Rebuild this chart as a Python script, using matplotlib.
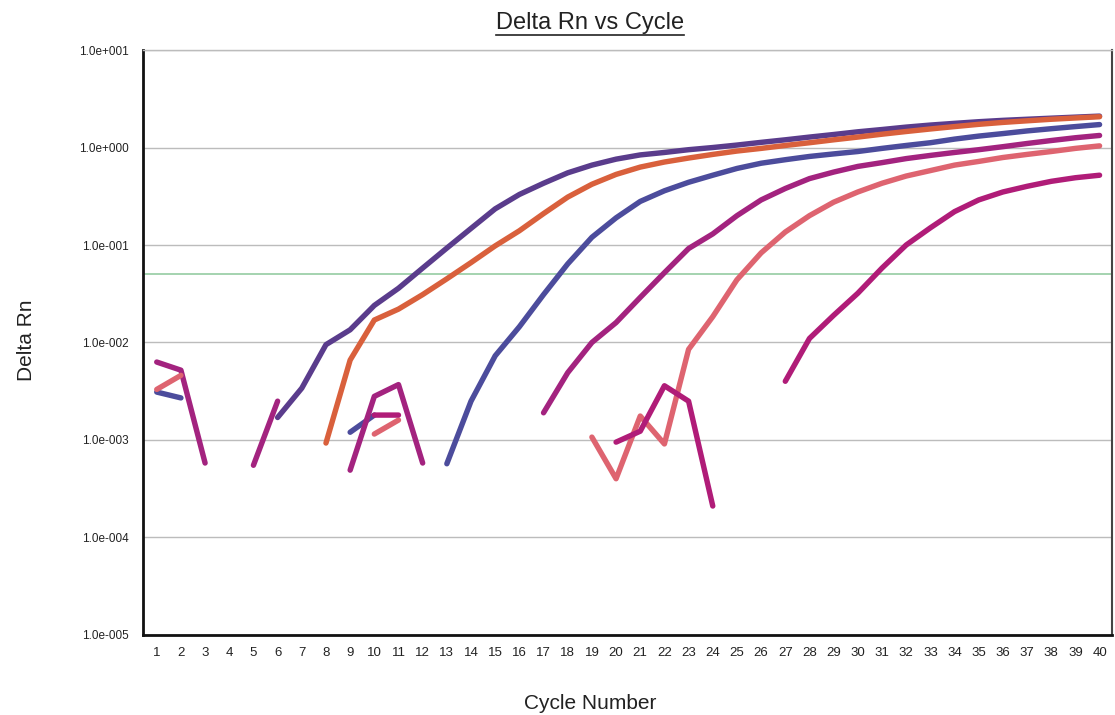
import matplotlib
matplotlib.use('Agg')
import matplotlib.pyplot as plt
from matplotlib.lines import Line2D
import numpy as np

plt.rcParams['font.family'] = ['Liberation Sans', 'DejaVu Sans']

nan = np.nan
cycles = list(range(1, 41))

# Delta Rn per cycle, gaps where the value was not plotted (<= 0)
purple = [nan, nan, nan, nan, nan, 0.0017, 0.0034, 0.0095, 0.0135, 0.024,
          0.036, 0.058, 0.093, 0.148, 0.235, 0.33, 0.43, 0.55, 0.66, 0.76,
          0.84, 0.89, 0.95, 1.0, 1.06, 1.13, 1.2, 1.28, 1.36, 1.45,
          1.53, 1.62, 1.70, 1.77, 1.84, 1.90, 1.95, 2.0, 2.05, 2.10]
orange = [nan, nan, nan, nan, nan, nan, nan, 0.00093, 0.0066, 0.017,
          0.022, 0.031, 0.045, 0.066, 0.098, 0.14, 0.21, 0.31, 0.42, 0.53,
          0.63, 0.71, 0.78, 0.85, 0.92, 0.98, 1.05, 1.12, 1.2, 1.28,
          1.37, 1.46, 1.55, 1.64, 1.73, 1.81, 1.88, 1.95, 2.01, 2.07]
blue = [0.0031, 0.0027, nan, nan, nan, nan, nan, nan, 0.0012, 0.0018,
        nan, nan, 0.00057, 0.0025, 0.0073, 0.0145, 0.031, 0.064, 0.12, 0.19,
        0.28, 0.36, 0.44, 0.52, 0.61, 0.69, 0.75, 0.81, 0.86, 0.91,
        0.98, 1.05, 1.12, 1.22, 1.31, 1.39, 1.48, 1.56, 1.64, 1.72]
magenta1 = [0.0063, 0.0052, 0.00058, nan, 0.00055, 0.0025, nan, nan, 0.00049, 0.0028,
            0.0037, 0.00058, nan, nan, nan, nan, 0.0019, 0.0049, 0.010, 0.016,
            0.029, 0.052, 0.092, 0.13, 0.20, 0.29, 0.38, 0.48, 0.56, 0.64,
            0.70, 0.77, 0.83, 0.89, 0.95, 1.02, 1.10, 1.18, 1.26, 1.33]
salmon = [0.0033, 0.0046, nan, nan, nan, nan, nan, nan, nan, 0.00115,
          0.0016, nan, nan, nan, nan, nan, nan, nan, 0.00107, 0.0004,
          0.00176, 0.00091, 0.0085, 0.0184, 0.044, 0.083, 0.136, 0.20, 0.275, 0.35,
          0.43, 0.51, 0.58, 0.66, 0.72, 0.79, 0.85, 0.91, 0.98, 1.04]
magenta2 = [nan, nan, nan, nan, nan, nan, nan, nan, nan, 0.0018,
            0.0018, nan, nan, nan, nan, nan, nan, nan, nan, 0.00095,
            0.00123, 0.0036, 0.0025, 0.00021, nan, nan, 0.004, 0.011, 0.019, 0.032,
            0.058, 0.10, 0.15, 0.22, 0.29, 0.35, 0.40, 0.45, 0.49, 0.52]

threshold = 0.051
ytick_vals = [1e-5, 1e-4, 1e-3, 1e-2, 1e-1, 1e0, 1e1]
ytick_labels = ['1.0e-005', '1.0e-004', '1.0e-003', '1.0e-002',
                '1.0e-001', '1.0e+000', '1.0e+001']

series = [
    (purple, '#5a3c8c'),
    (orange, '#d9603c'),
    (blue, '#4c4c9c'),
    (magenta1, '#a3237f'),
    (salmon, '#de6470'),
    (magenta2, '#b01c78'),
]

fig = plt.figure(figsize=(11.15, 7.15), dpi=100)
ax = fig.add_axes([0.128, 0.112, 0.869, 0.818])

ax.set_yscale('log')
ax.set_ylim(1e-5, 1e1)
ax.set_xlim(0.42, 40.5)

for yv in ytick_vals:
    ax.axhline(yv, color='#bcbcbc', lw=1.0, zorder=1)
ax.axhline(threshold, color='#8cc89a', lw=1.1, zorder=1)

for vals, col in series:
    ax.plot(cycles, vals, color=col, lw=3.9, solid_capstyle='round',
            solid_joinstyle='round', zorder=3)

ax.set_yticks(ytick_vals)
ax.set_yticklabels(ytick_labels)
ax.yaxis.set_minor_locator(matplotlib.ticker.NullLocator())
ax.set_xticks(cycles)
ax.set_xticklabels([str(c) for c in cycles])
ax.tick_params(axis='both', length=0, colors='#222222')
ax.tick_params(axis='x', pad=9, labelsize=9.5)
ax.tick_params(axis='y', pad=10, labelsize=8.5)

for side in ['left', 'bottom']:
    ax.spines[side].set_linewidth(2.0)
    ax.spines[side].set_color('#111111')
ax.spines['right'].set_linewidth(1.5)
ax.spines['right'].set_color('#444444')
ax.spines['top'].set_linewidth(1.0)
ax.spines['top'].set_color('#bcbcbc')

fig.text(0.024, 0.524, 'Delta Rn', rotation=90, ha='center', va='center',
         fontsize=15, color='#222222')
fig.text(0.529, 0.003, 'Cycle Number', ha='center', va='bottom',
         fontsize=15, color='#222222')
title = fig.text(0.529, 0.968, 'Delta Rn vs Cycle', ha='center', va='center',
                 fontsize=17, color='#222222')

# underline the title
fig.canvas.draw()
bb = title.get_window_extent()
fig.add_artist(Line2D([bb.x0, bb.x1], [bb.y0 - 1, bb.y0 - 1],
                      transform=None, color='#222222', lw=1.2))

fig.savefig('out.png', dpi=100)
